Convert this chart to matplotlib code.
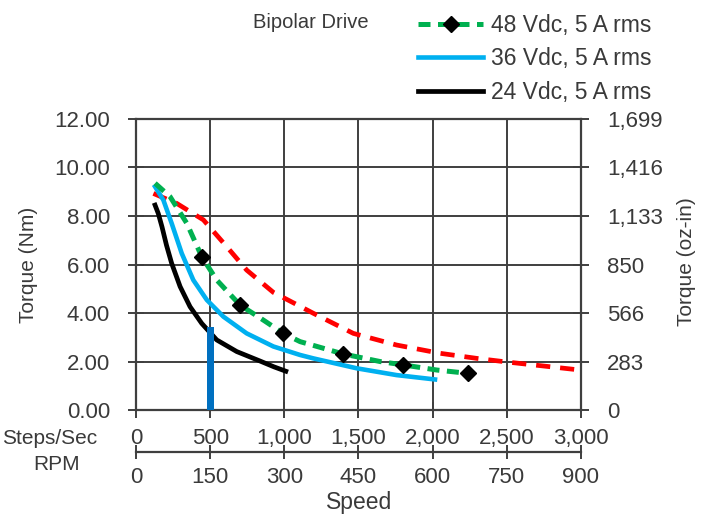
import matplotlib.pyplot as plt
from matplotlib.ticker import FixedLocator, FuncFormatter

plt.rcParams['font.family'] = ['Liberation Sans', 'DejaVu Sans']

# speed in steps/sec, torque in Nm
v48_x = [128, 229, 342, 443, 544, 701, 858, 993, 1106, 1398, 1645, 1802, 2027, 2240]
v48_y = [9.35, 8.80, 7.70, 6.32, 5.36, 4.33, 3.71, 3.16, 2.82, 2.31, 2.00, 1.86, 1.65, 1.51]
v48_marks = [3, 5, 7, 9, 11, 13]

v36_x = [128, 184, 240, 308, 386, 477, 589, 746, 926, 1106, 1195, 1488, 1757, 2016]
v36_y = [9.21, 8.66, 7.70, 6.46, 5.36, 4.54, 3.85, 3.16, 2.62, 2.27, 2.13, 1.72, 1.44, 1.26]

v24_x = [128, 150, 175, 205, 240, 297, 364, 443, 544, 679, 836, 930, 1010]
v24_y = [8.45, 8.10, 7.55, 6.80, 6.05, 5.09, 4.26, 3.57, 2.89, 2.41, 2.02, 1.78, 1.60]

red_x = [117, 274, 454, 611, 746, 926, 1083, 1195, 1465, 1757, 2049, 2297, 2501, 2993]
red_y = [8.93, 8.52, 7.84, 6.74, 5.77, 4.85, 4.35, 3.99, 3.16, 2.68, 2.34, 2.13, 1.98, 1.65]

marker_x = [500]
marker_h = [3.42]

nm_ticks = [0, 2, 4, 6, 8, 10, 12]
steps_ticks = [0, 500, 1000, 1500, 2000, 2500, 3000]
rpm_ticks = [0, 150, 300, 450, 600, 750, 900]
oz_per_nm = 141.612
rpm_per_step = 0.3

txt = '#3a3a3a'
gridc = '#3f3f3f'
tsize = 16

fig = plt.figure(figsize=(7.05, 5.14), dpi=100)
ax = fig.add_axes([0.193, 0.2023, 0.631, 0.5662])

ax.plot(red_x, red_y, color='#ff0000', lw=3.4, dashes=(3, 2.1), zorder=3)
ax.plot(v24_x, v24_y, color='black', lw=3.4, zorder=4, label='24 Vdc, 5 A rms')
ax.plot(v36_x, v36_y, color='#00b0f0', lw=3.3, zorder=4, label='36 Vdc, 5 A rms')
ax.plot(v48_x, v48_y, color='#00b050', lw=3.6, dashes=(2.4, 1.5), zorder=5,
        marker='D', markersize=8, markerfacecolor='black', markeredgecolor='black',
        markevery=v48_marks, label='48 Vdc, 5 A rms')
ax.bar(marker_x, marker_h, width=46, color='#0070c0', zorder=6)

ax.set_xlim(0, 3000)
ax.set_ylim(0, 12)
ax.set_xticks(steps_ticks)
ax.set_xticklabels([f'{t:,}' for t in steps_ticks])
ax.set_yticks(nm_ticks)
ax.yaxis.set_major_formatter(FuncFormatter(lambda v, p: f'{v:.2f}'))
ax.grid(True, color=gridc, lw=1.4)
ax.set_axisbelow(True)
for s in ax.spines.values():
    s.set_color(gridc)
    s.set_linewidth(1.6)
ax.tick_params(axis='both', direction='inout', length=11.5, width=1.4, color=gridc,
               labelsize=tsize, labelcolor=txt)
ax.tick_params(axis='x', pad=7)
ax.tick_params(axis='y', pad=13)
ax.set_ylabel('Torque (Nm)', fontsize=15, color=txt)
ax.yaxis.set_label_coords(-0.220, 0.5)

# right axis in oz-in
ax2 = ax.twinx()
ax2.set_ylim(0, 12 * oz_per_nm)
ax2.yaxis.set_major_locator(FixedLocator([t * oz_per_nm for t in nm_ticks]))
ax2.yaxis.set_major_formatter(FuncFormatter(lambda v, p: f'{v:,.0f}'))
ax2.tick_params(axis='y', direction='inout', length=11.5, width=1.4, color=gridc,
                labelsize=tsize, labelcolor=txt, pad=13)
for s in ax2.spines.values():
    s.set_visible(False)
ax2.set_ylabel('Torque (oz-in)', fontsize=15, color=txt)
ax2.yaxis.set_label_coords(1.216, 0.51)

# rpm axis below
sec = ax.secondary_xaxis(-0.144, functions=(lambda s: s * rpm_per_step,
                                            lambda r: r / rpm_per_step))
sec.set_xticks(rpm_ticks)
sec.tick_params(direction='inout', length=10, width=1.4, color=gridc,
                labelsize=tsize, labelcolor=txt, pad=6)
sec.spines['bottom'].set_color(gridc)
sec.spines['bottom'].set_linewidth(1.6)

fig.text(50 / 705, 1 - 438 / 514, 'Steps/Sec', fontsize=15, color=txt, ha='center', va='center')
fig.text(57 / 705, 1 - 465 / 514, 'RPM', fontsize=15, color=txt, ha='center', va='center')
fig.text(359 / 705, 1 - 503 / 514, 'Speed', fontsize=16.5, color=txt, ha='center', va='center')

# legend
fig.text(253 / 705, 1 - 23 / 514, 'Bipolar Drive', fontsize=14.5, color=txt, ha='left', va='center')
h, l = ax.get_legend_handles_labels()
order = [2, 1, 0]
leg = fig.legend([h[i] for i in order], [l[i] for i in order],
                 loc='upper left', bbox_to_anchor=(409 / 705, 1 - 5 / 514),
                 frameon=False, fontsize=16.5, handlelength=2.85, handletextpad=0.35,
                 labelspacing=0.45, numpoints=1, borderaxespad=0)
for t in leg.get_texts():
    t.set_color(txt)

fig.savefig('out.png', dpi=100)
